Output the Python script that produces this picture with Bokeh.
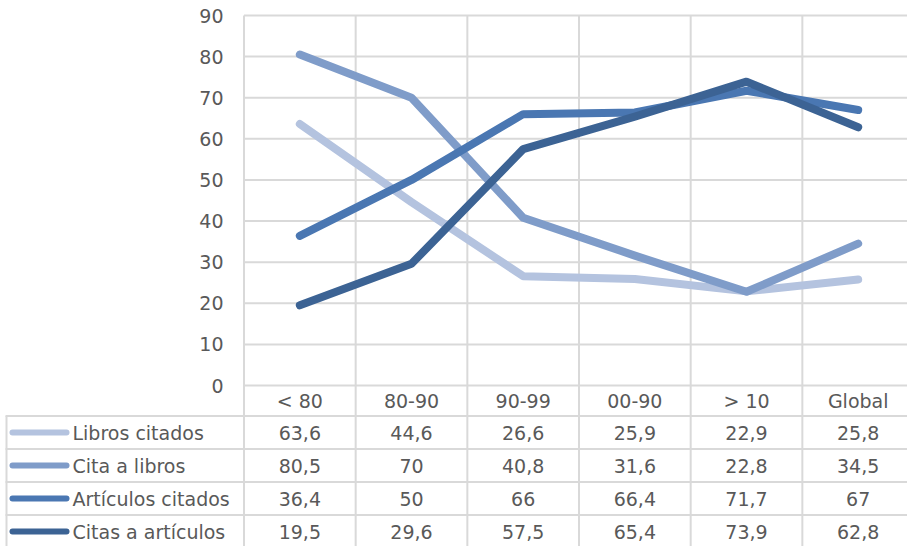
from bokeh.plotting import figure
from bokeh.models import Range1d, ColumnDataSource
from bokeh.core.properties import value
from bokeh.embed import file_html
from bokeh.resources import INLINE

# ---------------- data ----------------
categories = ["< 80", "80-90", "90-99", "00-90", "> 10", "Global"]
series_names = ["Libros citados", "Cita a libros", "Artículos citados", "Citas a artículos"]
libros_citados = [63.6, 44.6, 26.6, 25.9, 22.9, 25.8]
cita_a_libros = [80.5, 70, 40.8, 31.6, 22.8, 34.5]
articulos_citados = [36.4, 50, 66, 66.4, 71.7, 67]
citas_a_articulos = [19.5, 29.6, 57.5, 65.4, 73.9, 62.8]
y_ticks = [0, 10, 20, 30, 40, 50, 60, 70, 80, 90]

series_values = [libros_citados, cita_a_libros, articulos_citados, citas_a_articulos]
colors = ["#b4c3df", "#7f9cc9", "#4a77b2", "#3c6394"]

# ---------------- layout (pixels inside the figure frame) ----------------
W, H = 907, 546
col_px = 111.67          # width of one category column
left_px = 243.5          # chart left edge
top_px = 15.0            # y = 90
zero_px = 385.0          # y = 0
unit_px = (zero_px - top_px) / 90.0
row_px = 33.0
header_center_px = 400.0
first_line_px = 415.5

x0 = -0.5 - left_px / col_px
x1 = x0 + W / col_px
y1 = 90 + top_px / unit_px
y0 = y1 - H / unit_px


def X(px):
    return x0 + px / col_px


def Y(py):
    return y1 - py / unit_px


FONT = value("DejaVu Sans")
FSIZE = "19px"
TCOLOR = "#595959"
GRID = "#d9d9d9"

p = figure(width=W, height=H, output_backend="svg", toolbar_location=None,
           x_range=Range1d(x0, x1), y_range=Range1d(y0, y1),
           min_border=0, min_border_left=0, min_border_right=0,
           min_border_top=0, min_border_bottom=0)
p.axis.visible = False
p.grid.visible = False
p.outline_line_color = None
p.background_fill_color = "white"
p.border_fill_color = "white"

n = len(categories)
xs = list(range(n))

# horizontal gridlines of the chart
p.segment(x0=[-0.5] * len(y_ticks), x1=[n - 0.5] * len(y_ticks), y0=y_ticks, y1=y_ticks,
          line_color=GRID, line_width=2)
# vertical gridlines, continuing through the table
vx = [i - 0.5 for i in range(n + 1)]
p.segment(x0=vx, x1=vx, y0=[max(y_ticks)] * len(vx), y1=[y0] * len(vx),
          line_color=GRID, line_width=2)
# table row lines
row_lines = [Y(first_line_px + k * row_px) for k in range(len(series_names))]
p.segment(x0=[X(5)] * len(row_lines), x1=[x1] * len(row_lines), y0=row_lines, y1=row_lines,
          line_color=GRID, line_width=2)
# left border of legend column
p.segment(x0=[X(6)], x1=[X(6)], y0=[row_lines[0]], y1=[y0], line_color=GRID, line_width=2)

# y tick labels
p.text(x=[-0.5 - 20.5 / col_px] * len(y_ticks), y=y_ticks, text=[str(t) for t in y_ticks],
       text_align="right", text_baseline="middle", text_font=FONT,
       text_font_size=FSIZE, text_color=TCOLOR)

# category header row
p.text(x=xs, y=[Y(header_center_px)] * n, text=categories,
       text_align="center", text_baseline="middle", text_font=FONT,
       text_font_size=FSIZE, text_color=TCOLOR)

# series lines
for name, vals, col in zip(series_names, series_values, colors):
    src = ColumnDataSource(dict(x=xs, y=vals))
    p.line("x", "y", source=src, line_color=col, line_width=8,
           line_cap="round", line_join="round")


def fmt(v):
    if float(v).is_integer():
        return str(int(v))
    return ("%.1f" % v).replace(".", ",")


# data table rows
for k, (name, vals, col) in enumerate(zip(series_names, series_values, colors)):
    yc = Y(first_line_px + k * row_px + row_px / 2)
    p.line(x=[X(12), X(66)], y=[yc, yc], line_color=col, line_width=6, line_cap="round")
    p.text(x=[X(72)], y=[yc], text=[name], text_align="left", text_baseline="middle",
           text_font=FONT, text_font_size=FSIZE, text_color=TCOLOR)
    p.text(x=xs, y=[yc] * n, text=[fmt(v) for v in vals],
           text_align="center", text_baseline="middle", text_font=FONT,
           text_font_size=FSIZE, text_color=TCOLOR)

open("out.html", "w").write(file_html(p, INLINE))
